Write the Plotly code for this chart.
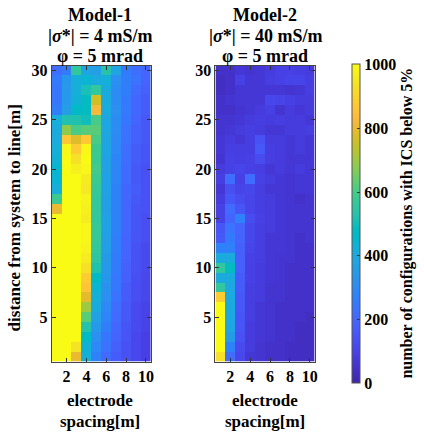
import plotly.graph_objects as go

# ---------------- data ----------------
electrode_spacing = [1, 2, 3, 4, 5, 6, 7, 8, 9, 10]
distance = [30, 29, 28, 27, 26, 25, 24, 23, 22, 21, 20, 19, 18, 17, 16,
            15, 14, 13, 12, 11, 10, 9, 8, 7, 6, 5, 4, 3, 2, 1]

model1 = [
    [220, 250, 560, 380, 360, 530, 380, 250, 220, 200],
    [250, 330, 420, 440, 400, 420, 310, 260, 230, 190],
    [240, 340, 420, 510, 560, 400, 300, 260, 210, 180],
    [240, 340, 430, 480, 760, 400, 300, 250, 200, 170],
    [260, 360, 470, 480, 820, 400, 310, 250, 200, 170],
    [420, 520, 520, 500, 600, 380, 300, 240, 190, 160],
    [400, 680, 600, 620, 620, 380, 300, 230, 180, 160],
    [410, 870, 780, 870, 600, 380, 290, 230, 180, 160],
    [420, 990, 880, 990, 580, 380, 290, 220, 170, 150],
    [430, 1000, 930, 1000, 580, 370, 280, 220, 170, 150],
    [450, 1000, 970, 990, 590, 370, 280, 210, 160, 140],
    [440, 1000, 1000, 960, 580, 370, 280, 210, 160, 140],
    [420, 1000, 1000, 950, 570, 370, 270, 200, 170, 140],
    [580, 1000, 1000, 980, 560, 360, 270, 200, 160, 140],
    [800, 1000, 1000, 970, 560, 360, 270, 200, 150, 140],
    [1000, 1000, 1000, 960, 560, 370, 270, 200, 150, 130],
    [1000, 1000, 1000, 990, 570, 370, 270, 200, 150, 130],
    [1000, 1000, 1000, 990, 570, 360, 260, 190, 150, 130],
    [1000, 1000, 1000, 980, 560, 360, 260, 190, 140, 120],
    [1000, 1000, 1000, 960, 550, 350, 250, 190, 140, 120],
    [1000, 1000, 1000, 930, 520, 340, 250, 180, 140, 120],
    [1000, 1000, 1000, 880, 470, 330, 240, 180, 130, 110],
    [1000, 1000, 1000, 860, 440, 320, 240, 170, 130, 110],
    [1000, 1000, 1000, 790, 420, 310, 230, 170, 130, 110],
    [1000, 1000, 1000, 700, 400, 290, 220, 160, 120, 100],
    [1000, 1000, 1000, 620, 370, 280, 210, 160, 120, 100],
    [1000, 1000, 1000, 530, 340, 260, 200, 150, 120, 100],
    [1000, 1000, 1000, 470, 310, 240, 190, 150, 110, 90],
    [1000, 1000, 940, 430, 290, 230, 180, 140, 110, 90],
    [1000, 1000, 800, 420, 270, 210, 170, 140, 110, 90],
]

model2 = [
    [45, 45, 65, 55, 65, 75, 95, 95, 85, 75],
    [35, 45, 95, 65, 65, 85, 95, 105, 105, 85],
    [35, 45, 65, 65, 65, 65, 65, 55, 65, 85],
    [45, 55, 65, 65, 65, 115, 105, 95, 75, 75],
    [45, 45, 55, 65, 75, 95, 55, 75, 65, 75],
    [55, 55, 65, 75, 85, 75, 85, 75, 75, 65],
    [55, 65, 75, 85, 75, 65, 65, 75, 75, 85],
    [65, 75, 65, 85, 140, 75, 75, 65, 75, 65],
    [65, 85, 85, 85, 160, 85, 75, 65, 75, 65],
    [55, 95, 85, 95, 125, 85, 75, 65, 65, 65],
    [75, 95, 105, 95, 85, 65, 75, 65, 75, 65],
    [85, 220, 95, 210, 95, 75, 65, 55, 65, 65],
    [65, 135, 105, 115, 85, 65, 65, 55, 65, 65],
    [75, 155, 125, 105, 85, 75, 65, 55, 45, 55],
    [95, 210, 150, 105, 85, 75, 65, 55, 55, 55],
    [95, 190, 270, 125, 95, 75, 65, 55, 55, 55],
    [150, 230, 190, 115, 85, 75, 65, 55, 55, 55],
    [160, 250, 190, 115, 85, 65, 65, 55, 45, 55],
    [270, 270, 180, 105, 85, 65, 65, 55, 45, 45],
    [400, 400, 180, 95, 85, 65, 55, 55, 45, 45],
    [560, 480, 180, 95, 75, 65, 55, 45, 45, 45],
    [400, 400, 170, 95, 75, 65, 55, 45, 45, 45],
    [560, 390, 170, 85, 75, 55, 55, 45, 45, 45],
    [880, 400, 160, 85, 75, 55, 55, 45, 45, 45],
    [1000, 400, 160, 85, 65, 55, 45, 45, 45, 45],
    [1000, 390, 150, 85, 65, 55, 45, 45, 45, 35],
    [1000, 380, 150, 75, 65, 55, 45, 45, 35, 35],
    [1000, 350, 140, 75, 65, 55, 45, 45, 35, 35],
    [1000, 270, 120, 75, 55, 45, 45, 35, 35, 35],
    [930, 220, 110, 65, 55, 45, 45, 35, 35, 35],
]

x_ticks = [2, 4, 6, 8, 10]
y_ticks = [5, 10, 15, 20, 25, 30]
cbar_ticks = [0, 200, 400, 600, 800, 1000]

# ---------------- style ----------------
parula_rgb = [
    (0.2422, 0.1504, 0.6603), (0.2504, 0.1650, 0.7076), (0.2578, 0.1818, 0.7511),
    (0.2647, 0.1978, 0.7952), (0.2706, 0.2147, 0.8364), (0.2751, 0.2342, 0.8710),
    (0.2783, 0.2559, 0.8991), (0.2803, 0.2782, 0.9221), (0.2813, 0.3006, 0.9414),
    (0.2810, 0.3228, 0.9579), (0.2795, 0.3447, 0.9717), (0.2760, 0.3667, 0.9829),
    (0.2699, 0.3892, 0.9906), (0.2602, 0.4123, 0.9952), (0.2440, 0.4358, 0.9988),
    (0.2206, 0.4603, 0.9973), (0.1963, 0.4847, 0.9892), (0.1834, 0.5074, 0.9798),
    (0.1786, 0.5289, 0.9682), (0.1764, 0.5499, 0.9520), (0.1687, 0.5703, 0.9359),
    (0.1540, 0.5902, 0.9218), (0.1460, 0.6091, 0.9079), (0.1380, 0.6276, 0.8973),
    (0.1248, 0.6459, 0.8883), (0.1113, 0.6635, 0.8763), (0.0952, 0.6798, 0.8598),
    (0.0689, 0.6948, 0.8394), (0.0297, 0.7082, 0.8163), (0.0036, 0.7203, 0.7917),
    (0.0067, 0.7312, 0.7660), (0.0433, 0.7411, 0.7394), (0.0964, 0.7500, 0.7120),
    (0.1408, 0.7584, 0.6842), (0.1717, 0.7670, 0.6554), (0.1938, 0.7758, 0.6251),
    (0.2161, 0.7843, 0.5923), (0.2470, 0.7918, 0.5567), (0.2906, 0.7973, 0.5188),
    (0.3406, 0.8008, 0.4789), (0.3909, 0.8029, 0.4354), (0.4456, 0.8024, 0.3909),
    (0.5044, 0.7993, 0.3480), (0.5616, 0.7942, 0.3045), (0.6174, 0.7876, 0.2612),
    (0.6720, 0.7793, 0.2227), (0.7242, 0.7698, 0.1910), (0.7738, 0.7598, 0.1646),
    (0.8203, 0.7498, 0.1535), (0.8634, 0.7406, 0.1596), (0.9035, 0.7330, 0.1774),
    (0.9393, 0.7288, 0.2100), (0.9728, 0.7298, 0.2394), (0.9956, 0.7434, 0.2371),
    (0.9970, 0.7659, 0.2199), (0.9952, 0.7893, 0.2028), (0.9892, 0.8136, 0.1885),
    (0.9786, 0.8386, 0.1766), (0.9676, 0.8639, 0.1643), (0.9610, 0.8890, 0.1537),
    (0.9597, 0.9135, 0.1423), (0.9628, 0.9373, 0.1265), (0.9691, 0.9606, 0.1064),
    (0.9769, 0.9839, 0.0805),
]
n = len(parula_rgb)
parula = [[i / (n - 1), "rgb(%d,%d,%d)" % tuple(round(c * 255) for c in rgb)]
          for i, rgb in enumerate(parula_rgb)]

W, H = 424, 434
SERIF = "Times New Roman, Liberation Serif, DejaVu Serif, serif"
FONT = dict(family=SERIF, size=16, color="black", weight="bold")


def px_x(p):
    return p / W


def px_y(p):
    return 1 - p / H


fig = go.Figure()
fig.add_trace(go.Heatmap(
    x=electrode_spacing, y=distance, z=model1, zmin=0, zmax=1000,
    colorscale=parula, showscale=False, xaxis="x", yaxis="y"))
fig.add_trace(go.Heatmap(
    x=electrode_spacing, y=distance, z=model2, zmin=0, zmax=1000,
    colorscale=parula, xaxis="x2", yaxis="y2",
    colorbar=dict(
        x=px_x(355), xanchor="left", xref="paper",
        y=px_y(222.5), yanchor="middle",
        len=(383 - 62) / H, lenmode="fraction",
        thickness=8, thicknessmode="pixels",
        outlinewidth=1, outlinecolor="#555",
        tickvals=cbar_ticks, ticks="inside", ticklen=3, tickcolor="#333",
        tickfont=FONT, xpad=0, ypad=0,
    )))

ydom = [px_y(361), px_y(63)]
axis_common = dict(
    showline=True, linecolor="#444", linewidth=1, mirror="ticks",
    ticks="inside", ticklen=4, tickcolor="#333", tickfont=FONT,
    showgrid=False, zeroline=False,
)
fig.update_layout(
    width=W, height=H,
    margin=dict(l=0, r=0, t=0, b=0),
    paper_bgcolor="white", plot_bgcolor="white",
    xaxis=dict(domain=[px_x(52), px_x(152)], range=[0.5, 10.5], tickvals=x_ticks,
               anchor="y", **axis_common),
    yaxis=dict(domain=ydom, range=[0.5, 30.5], tickvals=y_ticks, anchor="x",
               **axis_common),
    xaxis2=dict(domain=[px_x(217), px_x(317)], range=[0.5, 10.5], tickvals=x_ticks,
                anchor="y2", **axis_common),
    yaxis2=dict(domain=ydom, range=[0.5, 30.5], tickvals=y_ticks, anchor="x2",
                **axis_common),
)

TFONT = dict(family=SERIF, size=18, color="black", weight="bold")
LFONT = dict(family=SERIF, size=17, color="black", weight="bold")
ann = []


def add_text(text, xp, yp, angle=0, font=TFONT):
    ann.append(dict(text=text, x=px_x(xp), y=px_y(yp), xref="paper", yref="paper",
                    showarrow=False, xanchor="center", yanchor="middle",
                    textangle=angle, font=font))


for cx, name, sig in [(101, "Model-1", "4"), (267, "Model-2", "40")]:
    add_text(name, cx, 12)
    add_text("|<i>σ</i>*| = %s mS/m" % sig, cx, 33)
    add_text("φ = 5 mrad", cx, 53)
    add_text("electrode", cx, 400, font=LFONT)
    add_text("spacing[m]", cx, 421, font=LFONT)

add_text("distance from system to line[m]", 15, 216, angle=-90, font=LFONT)
add_text("number of configurations with ICS below 5%", 410, 222, angle=-90,
         font=dict(family=SERIF, size=16, color="black", weight="bold"))
fig.update_layout(annotations=ann)

fig.write_html("out.html")
